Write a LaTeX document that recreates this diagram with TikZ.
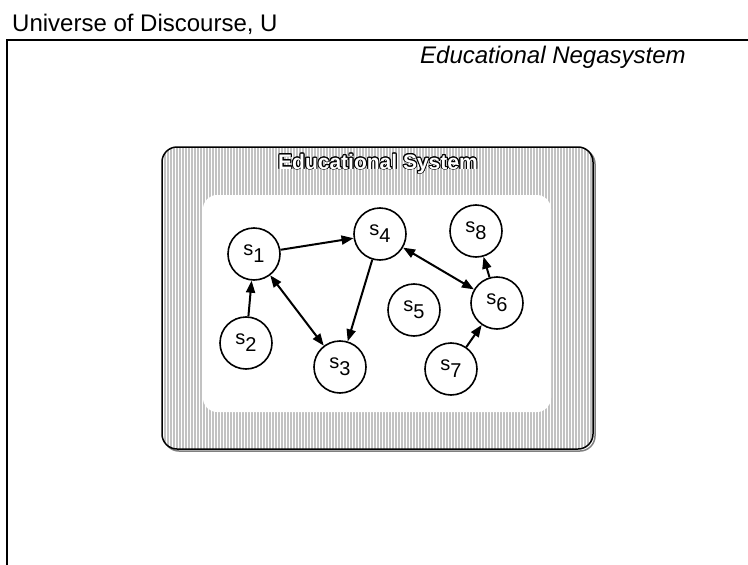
\documentclass[tikz,border=0pt]{standalone}
\usepackage{fontspec}
\setmainfont{Liberation Sans}
\usepackage{contour}
\usetikzlibrary{arrows.meta}
\definecolor{panelgray}{RGB}{194,194,194}
\newcommand\slab[1]{s\raisebox{-7pt}{#1}}
\begin{document}
\begin{tikzpicture}[x=1pt,y=-1pt,
  state/.style={draw,line width=1.6pt,circle,minimum size=52pt,inner sep=0pt,fill=white,
    font=\fontsize{20}{20}\selectfont},
  link/.style={line width=2pt,-{Triangle[length=12pt,width=9pt]}},
  biline/.style={line width=2pt,{Triangle[length=12pt,width=9pt]}-{Triangle[length=12pt,width=9pt]}}]
\useasboundingbox (0,0) rectangle (748,565);

% universe frame (open to the right and bottom)
\draw[line width=1.8pt] (7,566) -- (7,40) -- (749,40);
\node[anchor=base west,inner sep=0pt,font=\fontsize{24}{26}\selectfont] (univ) at (12,31) {Universe of Discourse, U};
\node[anchor=base west,inner sep=0pt,font=\fontsize{24}{26}\selectfont\itshape] (nega) at (420,63) {Educational Negasystem};

% educational system panel: shadow, halftone fill, inner field, border
\draw[line width=1.5pt,gray,rounded corners=15pt] (164,149) rectangle (595,451);
\fill[panelgray,rounded corners=15pt] (162,147) rectangle (593,449);
\begin{scope}
  \clip[rounded corners=15pt] (162,147) rectangle (593,449);
  \foreach \xx in {163,166,...,592}
    \draw[white,line width=0.6pt] (\xx,147) -- (\xx,449);
\end{scope}
\fill[white,rounded corners=14pt] (203,195) rectangle (551,412);
\draw[line width=1.5pt,rounded corners=15pt] (162,147) rectangle (593,449);
\contourlength{0.9pt}
\node[anchor=base,inner sep=0pt,font=\fontsize{21}{23}\selectfont\bfseries] (systitle) at (378,169)
  {\contour{black}{\textcolor{white}{Educational System}}};

% states
\node[state] (s1) at (254,254) {\slab{1}};
\node[state] (s2) at (246,343) {\slab{2}};
\node[state] (s3) at (340,367) {\slab{3}};
\node[state] (s4) at (380,234) {\slab{4}};
\node[state] (s5) at (414,310) {\slab{5}};
\node[state] (s6) at (497,303) {\slab{6}};
\node[state] (s7) at (451,369) {\slab{7}};
\node[state] (s8) at (476,231) {\slab{8}};

% relations
\draw[link] (s1) -- (s4);
\draw[link] (s2) -- (s1);
\draw[biline] (s1) -- (s3);
\draw[link] (s4) -- (s3);
\draw[biline] (s4) -- (s6);
\draw[link] (s6) -- (s8);
\draw[link] (s7) -- (s6);
\end{tikzpicture}
\end{document}
